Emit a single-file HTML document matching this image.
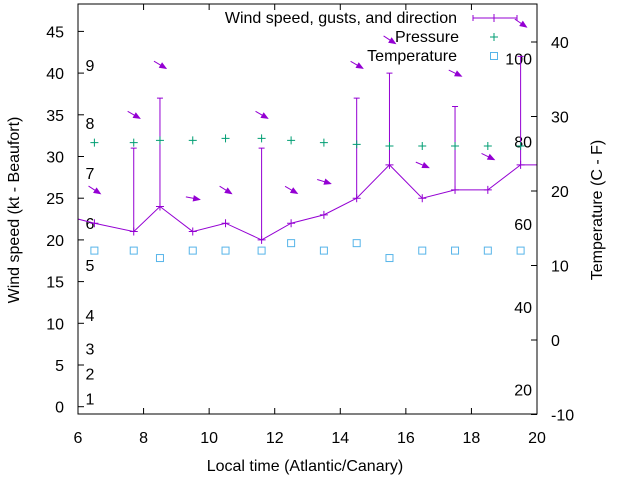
<!DOCTYPE html>
<html><head><meta charset="utf-8"><style>
html,body{margin:0;padding:0;background:#fff;}
svg{display:block;font-family:"Liberation Sans",sans-serif;}
</style></head><body>
<svg id="chart" width="640" height="480" viewBox="0 0 640 480" xmlns="http://www.w3.org/2000/svg">
<defs><clipPath id="clip"><rect x="78" y="4" width="459" height="410"/></clipPath></defs>
<g id="grid"></g>
<g id="series" clip-path="url(#clip)"></g>
<rect x="78" y="4" width="459" height="410" fill="none" stroke="#000" stroke-width="1"/>
<g id="axes"></g>
<text transform="translate(19,210) rotate(-90)" text-anchor="middle" font-size="16">Wind speed (kt - Beaufort)</text>
<text transform="translate(602,210) rotate(-90)" text-anchor="middle" font-size="16">Temperature (C - F)</text>
<text x="305" y="471" text-anchor="middle" font-size="16">Local time (Atlantic/Canary)</text>
<g id="legend">
<text x="457" y="23" text-anchor="end" font-size="16">Wind speed, gusts, and direction</text>
<text x="459" y="42" text-anchor="end" font-size="16">Pressure</text>
<text x="457" y="61" text-anchor="end" font-size="16">Temperature</text>
</g>
</svg>
<script>
const times=[5.5,6.5,7.7,8.5,9.5,10.5,11.6,12.5,13.5,14.5,15.5,16.5,17.5,18.5,19.5,20.5];
const speeds=[23,22,21,24,21,22,20,22,23,25,29,25,26,26,29,29];
const gusts=[null,null,31,37,null,null,31,null,null,37,40,null,36,null,42,null];
const directions=[300,303,300,301,281,302,300,300,287,300,303,293,296,296,304,300];
const obsTimes=[6.5,7.7,8.5,9.5,10.5,11.6,12.5,13.5,14.5,15.5,16.5,17.5,18.5,19.5];
const pressures=[31.66,31.66,31.94,31.94,32.18,32.18,31.94,31.66,31.46,31.26,31.26,31.26,31.26,31.26];
const temps=[12,12,11,12,12,12,13,12,13,11,12,12,12,12];
const xTicks=[6,8,10,12,14,16,18,20];
const yTicks=[0,5,10,15,20,25,30,35,40,45];
const y2Ticks=[-10,0,10,20,30,40];
const beaufortLabels=["1","2","3","4","5","6","7","8","9"];
const beaufortKt=[1,4,7,11,17,22,28,34,41];
const fLabels=[20,40,60,80,100];

const X=t=>78+(t-6)*32.786;
const Y=v=>406.7-v*8.34;
const Y2=c=>340-c*7.45;
const NS="http://www.w3.org/2000/svg";
function mk(tag,parent,attrs){const e=document.createElementNS(NS,tag);for(const k in attrs)e.setAttribute(k,attrs[k]);parent.appendChild(e);return e;}
const axes=document.getElementById('axes'),series=document.getElementById('series'),grid=document.getElementById('grid'),legend=document.getElementById('legend');
const WC="#9400d3",PC="#009e73",TC="#56b4e9";

xTicks.forEach(t=>{const x=X(t);
 let l=mk('path',axes,{d:`M${x},414v-6M${x},4v6`,stroke:'#000'});
 
 let tx=mk('text',axes,{x:x,y:443,'text-anchor':'middle','font-size':16});tx.textContent=t;
 });
yTicks.forEach(v=>{const y=Y(v);
 let l=mk('path',axes,{d:`M78,${y}h6`,stroke:'#000'});
 
 let tx=mk('text',axes,{x:64,y:y+6,'text-anchor':'end','font-size':16});tx.textContent=v;
 });
y2Ticks.forEach(v=>{const y=Y2(v);
 let l=mk('path',axes,{d:`M537,${y}h-6`,stroke:'#000'});
 
 let tx=mk('text',axes,{x:551,y:y+6,'text-anchor':'start','font-size':16});tx.textContent=v;
 });
beaufortLabels.forEach((b,i)=>{let tx=mk('text',grid,{x:90,y:Y(beaufortKt[i])+6,'text-anchor':'middle','font-size':16});tx.textContent=b;
 });
fLabels.forEach(f=>{const c=(f-32)*5/9;let tx=mk('text',grid,{x:532,y:Y2(c)+6,'text-anchor':'end','font-size':16});tx.textContent=f;
 });

let pts=times.map((t,i)=>X(t)+','+Y(speeds[i])).join(' ');
let wl=mk('polyline',series,{points:pts,fill:'none',stroke:WC,'stroke-width':1});

times.forEach((t,i)=>{const x=X(t),y=Y(speeds[i]);
 let p=mk('path',series,{d:`M${x-4},${y}h8M${x},${y-4}v8`,stroke:WC});
 
 if(gusts[i]!=null){const g=Y(gusts[i]);
  let gl=mk('path',series,{d:`M${x},${y}V${g}M${x-3},${g}h6`,stroke:WC});
  }
 const top=Math.max(speeds[i],gusts[i]||0)+4;const cy=Y(top);
 const to=(directions[i]+180)*Math.PI/180;const dx=Math.sin(to),dy=-Math.cos(to);
 const L=7,x1=x-dx*L,y1=cy-dy*L,x2=x+dx*L,y2=cy+dy*L;
 const px=-dy,py=dx,h=6,w=2.5;
 let a=mk('path',series,{d:`M${x1},${y1}L${x2},${y2}`,stroke:WC,'stroke-width':1});
 
 let hd=mk('path',series,{d:`M${x2},${y2}L${x2-dx*h+px*w},${y2-dy*h+py*w}L${x2-dx*h-px*w},${y2-dy*h-py*w}Z`,fill:WC,stroke:WC});
 });
obsTimes.forEach((t,i)=>{const x=X(t),y=Y(pressures[i]);
 let p=mk('path',series,{d:`M${x-4},${y}h8M${x},${y-4}v8`,stroke:PC});
 
 const ty=Y2(temps[i]);
 let s=mk('rect',series,{x:x-3.5,y:ty-3.5,width:7,height:7,fill:'none',stroke:TC});
 });
let ls=mk('path',legend,{d:'M473,18H517M473,15v6M517,15v6M494,14v8',stroke:WC});

let lp=mk('path',legend,{d:'M490,37h8M494,33v8',stroke:PC});

let lt=mk('rect',legend,{x:490.5,y:52.5,width:7,height:7,fill:'none',stroke:TC});

</script>
</body></html>
